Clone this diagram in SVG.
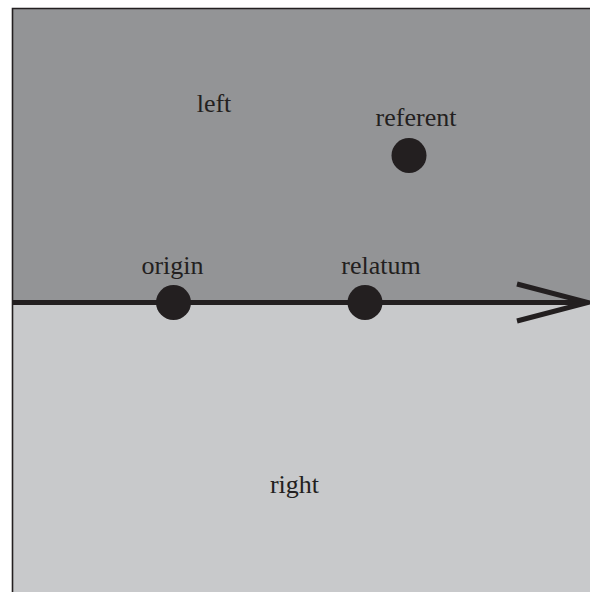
<svg xmlns="http://www.w3.org/2000/svg" width="590" height="592" viewBox="0 0 590 592">
  <style>
    .label { font-family: "Liberation Serif", "Times New Roman", serif; font-size: 26px; fill: #231f20; text-anchor: middle; }
    .dot { fill: #231f20; }
    .axis { stroke: #231f20; stroke-width: 5; fill: none; }
  </style>
  <rect width="590" height="592" fill="#ffffff"/>
  <!-- half-planes -->
  <g id="left-region">
    <rect x="12.5" y="8.5" width="580" height="294" fill="#939496"/>
    <text class="label" x="214" y="112">left</text>
  </g>
  <g id="right-region">
    <rect x="12.5" y="302" width="580" height="292" fill="#c8c9cb"/>
    <text class="label" x="294.5" y="493">right</text>
  </g>
  <!-- frame -->
  <path d="M12.5 594 V8.5 H592" fill="none" stroke="#231f20" stroke-width="1.6"/>
  <!-- directed axis -->
  <g id="connectors">
    <line class="axis" x1="12" y1="302.5" x2="588" y2="302.5"/>
    <polyline class="axis" points="517,284 588,302.5 517,321"/>
  </g>
  <g id="origin">
    <circle class="dot" cx="173.5" cy="302.5" r="17.5"/>
    <text class="label" x="172.5" y="274">origin</text>
  </g>
  <g id="relatum">
    <circle class="dot" cx="365" cy="302.5" r="17.5"/>
    <text class="label" x="381" y="274">relatum</text>
  </g>
  <g id="referent">
    <circle class="dot" cx="409" cy="155.5" r="17.5"/>
    <text class="label" x="416" y="126">referent</text>
  </g>
</svg>
